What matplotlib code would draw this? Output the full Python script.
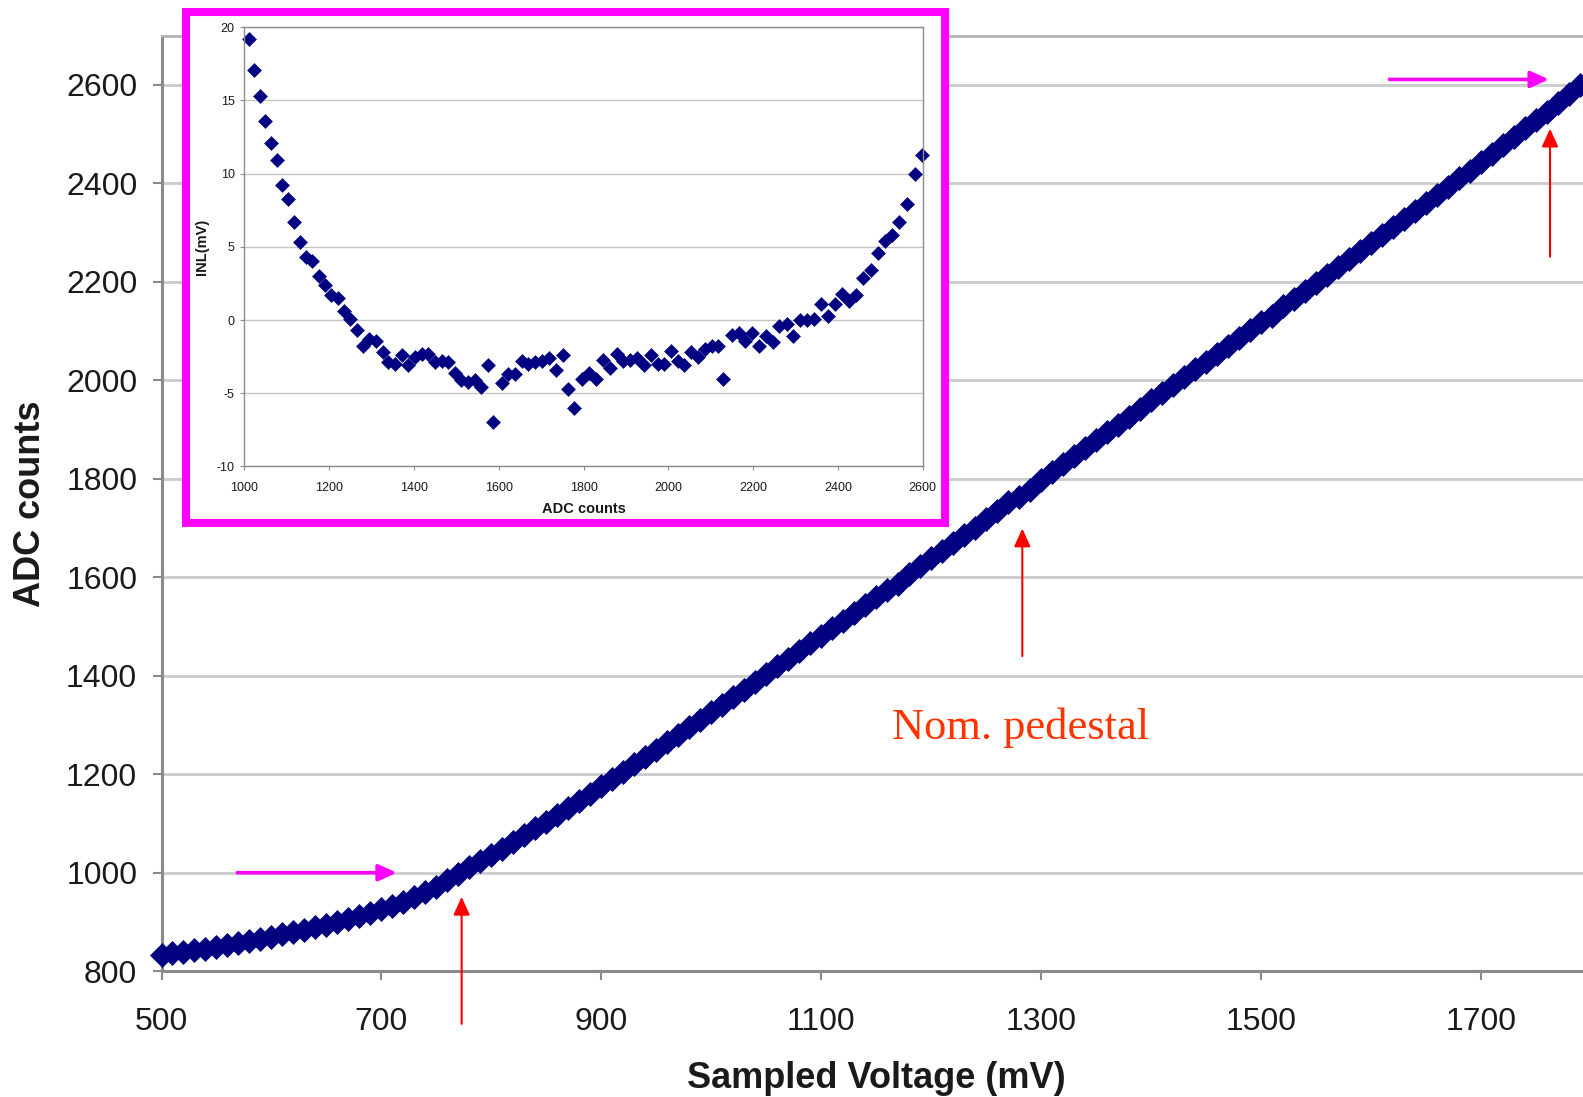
import numpy as np
import matplotlib
matplotlib.use("Agg")
import matplotlib.pyplot as plt
from matplotlib.patches import Rectangle

plt.rcParams['font.family'] = ['Liberation Sans', 'DejaVu Sans']
plt.rcParams['axes.unicode_minus'] = False

# ADC transfer curve: sampled voltage sweep (mV) and resulting ADC counts
sweep_mv = np.arange(500, 1791, 10)

# counts below the nominal range (500 - 770 mV)
low_counts = [833, 836, 839, 843, 846, 850, 854, 858, 862, 866,
              870, 875, 879, 884, 889, 894, 900, 906, 912, 919,
              926, 933, 941, 950, 960, 972, 985, 998]

# counts in the fitted range (780 - 1790 mV); also the x values of the INL inset
fit_counts = [1012, 1024, 1036, 1049, 1063, 1077, 1090, 1103, 1118, 1131,
              1146, 1160, 1176, 1190, 1205, 1220, 1235, 1250, 1265, 1279,
              1295, 1310, 1326, 1340, 1356, 1372, 1387, 1403, 1419, 1434,
              1450, 1466, 1481, 1497, 1511, 1528, 1543, 1559, 1575, 1586,
              1607, 1623, 1639, 1654, 1670, 1686, 1701, 1719, 1735, 1752,
              1764, 1777, 1797, 1814, 1829, 1846, 1862, 1878, 1894, 1910,
              1925, 1942, 1959, 1975, 1990, 2006, 2022, 2038, 2054, 2070,
              2086, 2102, 2118, 2130, 2150, 2166, 2181, 2198, 2213, 2230,
              2246, 2262, 2279, 2295, 2311, 2328, 2344, 2361, 2376, 2392,
              2410, 2426, 2443, 2460, 2477, 2495, 2512, 2528, 2545, 2563,
              2581, 2599]

# integral non-linearity (mV) at each fitted point
inl_mv = [19.2, 17.1, 15.3, 13.6, 12.1, 10.9, 9.2, 8.3, 6.7, 5.3,
          4.3, 4.0, 3.0, 2.4, 1.7, 1.5, 0.6, 0.1, -0.7, -1.8,
          -1.3, -1.4, -2.2, -2.9, -3.0, -2.4, -3.1, -2.5, -2.3, -2.3,
          -2.9, -2.8, -2.9, -3.6, -4.1, -4.2, -4.1, -4.6, -3.1, -7.0,
          -4.3, -3.7, -3.7, -2.8, -3.0, -2.9, -2.8, -2.6, -3.4, -2.4,
          -4.7, -6.0, -4.0, -3.6, -4.0, -2.7, -3.3, -2.3, -2.8, -2.7,
          -2.6, -3.1, -2.4, -3.0, -3.0, -2.1, -2.8, -3.1, -2.2, -2.5,
          -2.0, -1.8, -1.8, -4.0, -1.0, -0.9, -1.4, -0.9, -1.8, -1.1,
          -1.5, -0.4, -0.3, -1.1, 0.0, 0.0, 0.1, 1.1, 0.3, 1.1,
          1.8, 1.3, 1.7, 2.9, 3.4, 4.6, 5.4, 5.8, 6.7, 7.9,
          10.0, 11.3]

adc_counts = low_counts + fit_counts

main_xticks = [500, 700, 900, 1100, 1300, 1500, 1700]
main_yticks = [800, 1000, 1200, 1400, 1600, 1800, 2000, 2200, 2400, 2600]
inset_xticks = [1000, 1200, 1400, 1600, 1800, 2000, 2200, 2400, 2600]
inset_yticks = [-10, -5, 0, 5, 10, 15, 20]

# range markers (mV)
pedestal_mv = 1283
low_edge_mv = 773
high_edge_mv = 1763

NAVY = '#000080'
MAGENTA = '#ff00ff'
RED = '#ff0000'
W, H = 1583, 1097

fig = plt.figure(figsize=(W / 100, H / 100), dpi=100)
fig.patch.set_facecolor('white')

# ---------------- main transfer curve ----------------
ax = fig.add_axes([161.5 / W, 1 - 971.2 / H, 1 - 161.5 / W, (971.2 - 35.6) / H])
ax.set_xlim(500, 1793)
ax.set_ylim(800, 2700)
ax.set_xticks(main_xticks)
ax.set_yticks(main_yticks)
ax.grid(axis='y', color='#cbcbcb', lw=2.0)
ax.set_axisbelow(True)
for side in ['left', 'bottom']:
    ax.spines[side].set_color('#8a8a8a')
    ax.spines[side].set_linewidth(2.2)
ax.spines['top'].set_color('#b4b4b4')
ax.spines['top'].set_linewidth(2.0)
ax.spines['right'].set_visible(False)
ax.tick_params(axis='both', colors='#8a8a8a', labelcolor='#1a1a1a',
               length=6.5, width=1.5, labelsize=23)
ax.tick_params(axis='y', pad=11)
ax.tick_params(axis='x', pad=19)

ax.plot(sweep_mv, adc_counts, linestyle='none', marker='D', markersize=12,
        color=NAVY, markeredgecolor=NAVY, markeredgewidth=0.5, clip_on=False,
        zorder=3)

fig.text(876 / W, 1 - 1088 / H, 'Sampled Voltage (mV)', ha='center',
         va='baseline', fontsize=26, fontweight='bold', color='#1a1a1a')
fig.text(31 / W, 1 - 504 / H, 'ADC counts', ha='center', va='center',
         rotation=90, fontsize=26, fontweight='bold', color='#1a1a1a')


def arrow(tail, tip, color, lw):
    ax.annotate('', xy=tip, xytext=tail, xycoords='data', textcoords='data',
                annotation_clip=False,
                arrowprops=dict(arrowstyle='-|>,head_length=0.55,head_width=0.25',
                                mutation_scale=20, color=color, lw=lw,
                                shrinkA=0, shrinkB=0), zorder=5)


# horizontal markers of the fitted count range
arrow((569, 1000), (714, 1000), MAGENTA, 2.6)
arrow((1617, 2611), (1762, 2611), MAGENTA, 2.6)
# vertical markers of the voltage range
arrow((low_edge_mv, 693), (low_edge_mv, 951), RED, 1.5)
arrow((pedestal_mv, 1440), (pedestal_mv, 1699), RED, 1.5)
arrow((high_edge_mv, 2251), (high_edge_mv, 2511), RED, 1.5)

ax.text(pedestal_mv - 2, 1271, 'Nom. pedestal', ha='center', va='baseline',
        fontsize=32, family='Liberation Serif', color='#ff3300', zorder=5)

# ---------------- INL inset ----------------
frame = Rectangle((186 / W, 1 - 523 / H), (945 - 186) / W, (523 - 12) / H,
                  transform=fig.transFigure, facecolor='white',
                  edgecolor=MAGENTA, linewidth=5.8, zorder=1)
fig.patches.append(frame)

ins = fig.add_axes([244.3 / W, 1 - 466.4 / H, (922.8 - 244.3) / W, (466.4 - 27.3) / H])
ins.set_zorder(2)
ins.set_xlim(1000, 2600)
ins.set_ylim(-10, 20)
ins.set_xticks(inset_xticks)
ins.set_yticks(inset_yticks)
ins.grid(axis='y', color='#c4c4c4', lw=1.0)
ins.set_axisbelow(True)
for side in ins.spines.values():
    side.set_color('#8c8c8c')
    side.set_linewidth(1.0)
ins.tick_params(axis='both', colors='#8c8c8c', labelcolor='#1a1a1a',
                length=3, width=0.8, labelsize=9)
ins.tick_params(axis='y', pad=4)
ins.tick_params(axis='x', pad=8)
ins.plot(fit_counts, inl_mv, linestyle='none', marker='D', markersize=7,
         color=NAVY, markeredgecolor=NAVY, markeredgewidth=0.4, clip_on=False)

fig.text(583.5 / W, 1 - 509 / H, 'ADC counts', ha='center', va='center',
         fontsize=10.5, fontweight='bold', color='#1a1a1a')
fig.text(202 / W, 1 - 247 / H, 'INL(mV)', ha='center', va='center',
         rotation=90, fontsize=10.5, fontweight='bold', color='#1a1a1a')

fig.savefig('out.png', dpi=100, facecolor='white')
